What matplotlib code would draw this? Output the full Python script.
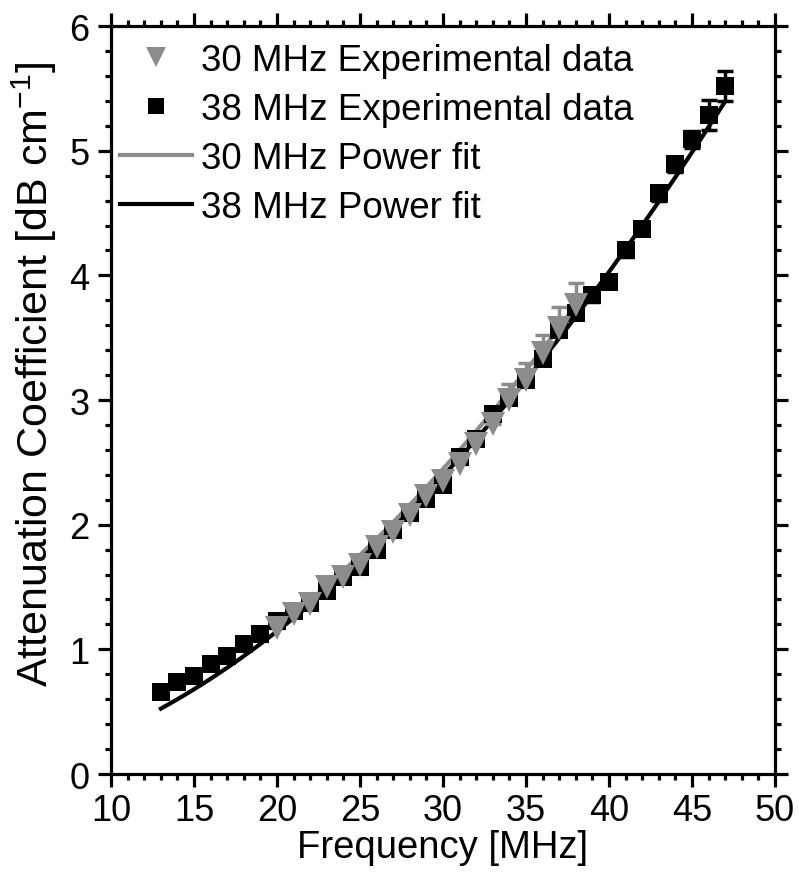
import matplotlib
matplotlib.use("Agg")
import matplotlib.pyplot as plt
import numpy as np
from matplotlib.ticker import MultipleLocator

plt.rcParams['font.family'] = ['Liberation Sans', 'DejaVu Sans']
plt.rcParams['mathtext.fontset'] = 'custom'
plt.rcParams['mathtext.rm'] = 'Liberation Sans'
plt.rcParams['mathtext.it'] = 'Liberation Sans'

# 30 MHz experimental data (triangles)
freq30 = [20, 21, 22, 23, 24, 25, 26, 27, 28, 29, 30, 31, 32, 33, 34, 35, 36, 37, 38]
att30 = [1.17, 1.28, 1.36, 1.50, 1.58, 1.68, 1.82, 1.94, 2.08, 2.23, 2.35, 2.49, 2.65,
         2.81, 3.00, 3.16, 3.38, 3.58, 3.76]
err30 = [0.05, 0.05, 0.05, 0.06, 0.06, 0.06, 0.07, 0.07, 0.07, 0.08, 0.08, 0.08, 0.09,
         0.10, 0.13, 0.14, 0.14, 0.17, 0.18]

# 38 MHz experimental data (squares)
freq38 = [13, 14, 15, 16, 17, 18, 19, 20, 21, 22, 23, 24, 25, 26, 27, 28, 29, 30,
          31, 32, 33, 34, 35, 36, 37, 38, 39, 40, 41, 42, 43, 44, 45, 46, 47]
att38 = [0.66, 0.74, 0.79, 0.88, 0.95, 1.04, 1.12, 1.23, 1.31, 1.37, 1.47, 1.58, 1.66,
         1.80, 1.96, 2.09, 2.21, 2.32, 2.54, 2.69, 2.89, 3.02, 3.16, 3.33, 3.56, 3.70,
         3.84, 3.95, 4.20, 4.37, 4.66, 4.89, 5.09, 5.29, 5.52]
err38 = [0.03] * 10 + [0.04] * 10 + [0.05] * 10 + [0.06, 0.06, 0.07, 0.12, 0.12]

# Power fit parameters: a * f^b
fit30_a, fit30_b, fit30_range = 0.00505, 1.818, (20, 38)
fit38_a, fit38_b, fit38_range = 0.00500, 1.814, (13, 47)

gray = '#8c8c8c'

fig = plt.figure(figsize=(7.99, 8.78), dpi=100)
ax = fig.add_axes([0.139, 0.1173, 0.831, 0.8519])

f30 = np.linspace(*fit30_range, 200)
f38 = np.linspace(*fit38_range, 200)
l1, = ax.plot(f30, fit30_a * f30 ** fit30_b, color=gray, lw=3, zorder=2,
              label='30 MHz Power fit')
l2, = ax.plot(f38, fit38_a * f38 ** fit38_b, color='black', lw=3, zorder=2,
              label='38 MHz Power fit')

# error bars of the 30 MHz data only show above the markers
ax.errorbar(freq30, att30, yerr=[np.zeros(len(err30)), err30], fmt='none', ecolor=gray,
            elinewidth=2.5, capsize=6, capthick=2.5, zorder=2.5)
ax.errorbar(freq38, att38, yerr=err38, fmt='none', ecolor='black', elinewidth=2.5,
            capsize=6, capthick=2.5, zorder=3)
s38, = ax.plot(freq38, att38, 's', color='black', ms=13.5, mew=0, zorder=4,
               label='38 MHz Experimental data')
s30, = ax.plot(freq30, att30, 'v', color=gray, ms=17.5, mew=0, zorder=6,
               label='30 MHz Experimental data')

ax.set_xlim(10, 50)
ax.set_ylim(0, 6)
ax.xaxis.set_major_locator(MultipleLocator(5))
ax.xaxis.set_minor_locator(MultipleLocator(1))
ax.yaxis.set_major_locator(MultipleLocator(1))
ax.yaxis.set_minor_locator(MultipleLocator(0.2))

for sp in ax.spines.values():
    sp.set_linewidth(2.3)
ax.tick_params(which='both', direction='out', top=True, right=True, width=2.3)
ax.tick_params(which='major', length=9.5, labelsize=26)
ax.tick_params(axis='x', which='major', pad=4)
ax.tick_params(axis='y', which='major', pad=6)
ax.tick_params(which='minor', length=4.5)

ax.set_xlabel('Frequency [MHz]', fontsize=27.5, labelpad=1)
ax.set_ylabel('Attenuation Coefficient [dB cm$^{-1}$]', fontsize=31)
ax.yaxis.set_label_coords(-0.078, 0.535)

leg = ax.legend(handles=[s30, s38, l1, l2], loc='upper left', frameon=False,
                bbox_to_anchor=(0.0, 0.99),
                fontsize=26.5, markerscale=0.85, handlelength=1.95, handletextpad=0.25,
                labelspacing=0.38, borderaxespad=0.05, borderpad=0.2)

fig.savefig('out.png', dpi=100)
